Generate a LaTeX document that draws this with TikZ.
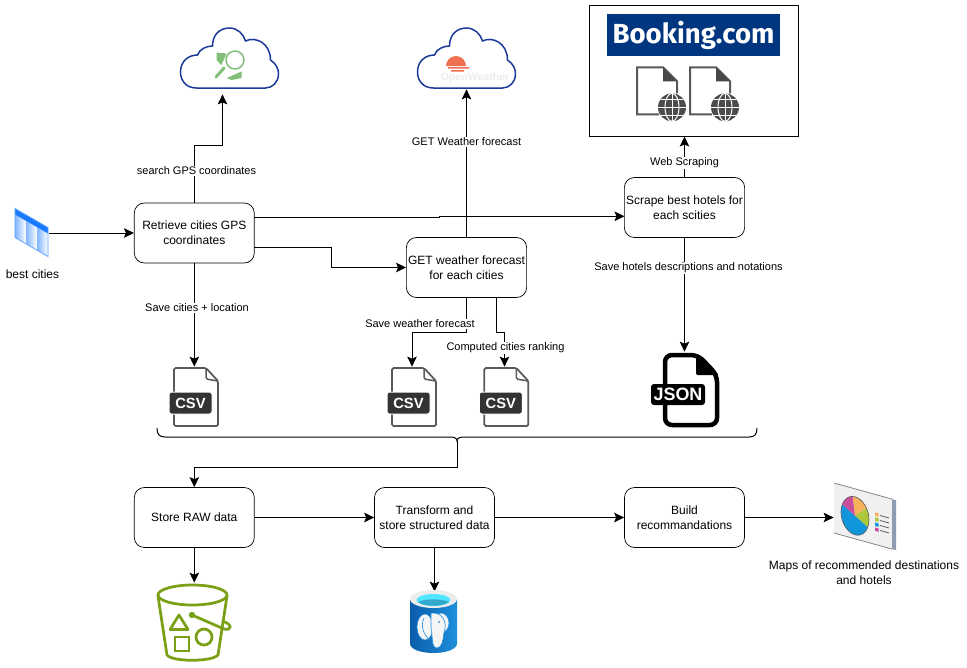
\documentclass[tikz,border=0pt]{standalone}
\usepackage{fontspec}
\setmainfont{Liberation Sans}
\newfontfamily\logofont{Fira Sans}
\usepackage{tikz}
\usetikzlibrary{arrows.meta,positioning,calc}
\definecolor{cloudcol}{HTML}{1A3A9C}
\definecolor{mapcol}{HTML}{82C07A}
\definecolor{suncol}{HTML}{EE7050}
\definecolor{bookingcol}{HTML}{003580}
\definecolor{filecol}{HTML}{595959}
\definecolor{badgecol}{HTML}{333333}
\definecolor{tablecol}{HTML}{1A7AFF}
\definecolor{bucketcol}{HTML}{7AA116}
\definecolor{pgcol}{HTML}{0A5DAB}
\definecolor{pglight}{HTML}{1E8FDC}
\definecolor{pgcyan}{HTML}{50E6FF}
\definecolor{pgdark}{HTML}{32A8CC}
\definecolor{pieorange}{HTML}{F5B25A}
\definecolor{piegreen}{HTML}{AEC83C}
\definecolor{pieblue}{HTML}{1296DB}
\definecolor{piepink}{HTML}{C94F9C}
\definecolor{panelside}{HTML}{8F9BB3}
\tikzset{
  stepbox/.style={draw, rounded corners=0.2cm, fill=white, align=center, inner sep=1pt, minimum width=2.4cm, minimum height=1.2cm, font=\fontsize{6.83}{8.54}\selectfont},
  edgelabel/.style={fill=white, inner sep=0.6pt, align=center, font=\fontsize{6.26}{8}\selectfont},
  plainlabel/.style={align=center, inner sep=0pt, font=\fontsize{6.83}{8.54}\selectfont},
  iconbox/.style 2 args={inner sep=0pt, minimum width=#1*0.02cm, minimum height=#2*0.02cm},
  flow/.style={line width=0.02cm, -{Stealth[length=0.2cm,width=0.19cm,inset=0.04cm]}},
  pics/cloudicon/.style={code={
    \draw[cloudcol, line width=0.03cm, fill=white] (16,0) .. controls (5,0) and (0,-8) .. (0,-16)
      .. controls (0,-27) and (8,-33) .. (17,-33) .. controls (19,-39) and (26,-42) .. (32,-42)
      .. controls (32,-54) and (40,-60) .. (49,-60) .. controls (57,-60) and (63,-54) .. (65,-47)
      .. controls (75,-52) and (90,-45) .. (90,-28) .. controls (96,-24) and (98,-19) .. (98,-14)
      .. controls (98,-6) and (92,0) .. (85,0) -- cycle;
  }},
  pics/csvicon/.style={code={
    \draw[filecol, line width=0.035cm, rounded corners=0.03cm] (0,58) -- (44,58) -- (44,13) -- (32,0) -- (0,0) -- cycle;
    \draw[filecol, line width=0.03cm, rounded corners=0.03cm] (32,0) -- (32,11) -- (44,13);
    \draw[white, fill=badgecol, line width=0.02cm, rounded corners=0.05cm] (-5,24) rectangle (38,46);
    \node[white, inner sep=0pt, font=\fontsize{8.4}{9}\bfseries\selectfont] at (16.5,35) {CSV};
  }},
  pics/webicon/.style={code={
    \draw[filecol, line width=0.04cm] (22,47) -- (0,47) -- (0,0) -- (26,0) -- (40,14) -- (40,26);
    \fill[filecol!80!black] (26,0) -- (40,14) -- (26,14) -- cycle;
    \fill[filecol!85!black] (35,40) circle[radius=14];
    \draw[white, line width=0.02cm] (35,26) -- (35,54) (21,40) -- (49,40) (24,32) -- (46,32) (24,48) -- (46,48);
    \draw[white, line width=0.02cm] (35,40) ellipse[x radius=7, y radius=14];
  }},
}
\begin{document}
\begin{tikzpicture}[x=0.02cm, y=-0.02cm]
\useasboundingbox (0,0) rectangle (967,667);

\node[stepbox] (retrieve) at (194.3,233) {Retrieve cities GPS\\coordinates};
\node[stepbox] (getweather) at (466.5,267.5) {GET weather forecast\\for each cities};
\node[stepbox] (scrape) at (684.5,207.5) {Scrape best hotels for\\each scities};
\node[stepbox] (store) at (194.3,517.5) {Store RAW data};
\node[stepbox] (transform) at (434.5,517.5) {Transform and\\store structured data};
\node[stepbox] (build) at (684.5,517.5) {Build\\recommandations};

\node[iconbox={34}{50}] (bestcities) at (32,233) {};
\node[iconbox={90}{68}] (cloudgps) at (222.5,60) {};
\node[iconbox={90}{68}] (cloudweather) at (466.5,55) {};
\node[draw, line width=0.02cm, iconbox={209}{131}] (booking) at (693.5,70.5) {};
\node[iconbox={44}{60}] (csvcities) at (194.3,397) {};
\node[iconbox={44}{60}] (csvweather) at (412,397) {};
\node[iconbox={44}{60}] (csvranking) at (504.5,397) {};
\node[iconbox={56}{76}] (jsonhotels) at (684.5,390) {};
\node[iconbox={76}{78}] (bucket) at (194.3,622) {};
\node[iconbox={48}{60}] (postgres) at (434.5,622) {};
\node[iconbox={62}{66}] (chart) at (865,517.5) {};

\coordinate (gpsbend) at (222.5,145);
\coordinate (retrieveup) at (254.3,217);
\coordinate (retrievedown) at (254.3,247);
\coordinate (jog) at (439,216.3);
\coordinate (scrapein) at (624.5,216.3);
\coordinate (savebend) at (412,332);
\coordinate (weatherright) at (496.5,297);
\coordinate (rankbend) at (504.5,332.5);
\coordinate (bracetip) at (457,441);
\coordinate (bracebend) at (194.3,467);

\draw[flow] (bestcities.east) -- (retrieve.west);
\draw[flow] (retrieve.north) |- (gpsbend) -- (cloudgps.south);
\draw[flow] (retrieveup) -| (jog) -- (scrapein);
\draw[flow] (retrievedown) -| (331,267.5) -- (getweather.west);
\draw[flow] (retrieve.south) -- (csvcities.north);
\draw[flow] (getweather.north) -- (cloudweather.south);
\draw[flow] (getweather.south) |- (savebend) -- (csvweather.north);
\draw[flow] (weatherright) |- (rankbend) -- (csvranking.north);
\draw[flow] (scrape.north) -- (scrape.north |- booking.south);
\draw[flow] (scrape.south) -- (jsonhotels.north);
\draw[flow] (bracetip) |- (bracebend) -- (store.north);
\draw[flow] (store.east) -- (transform.west);
\draw[flow] (store.south) -- (bucket.north);
\draw[flow] (transform.east) -- (build.west);
\draw[flow] (transform.south) -- (postgres.north);
\draw[flow] (build.east) -- (chart.west);

\draw[line width=0.02cm] (157,428) .. controls (157,434) and (159,437) .. (165,437) -- (450,437)
  .. controls (454,437) and (457,438) .. (bracetip) .. controls (457,438) and (460,437) .. (464,437)
  -- (749,437) .. controls (755,437) and (757,434) .. (757,428);

\node[edgelabel] (labelgps) at (196.5,171) {search GPS coordinates};
\node[edgelabel] (labelsavecities) at (197,308) {Save cities + location};
\node[edgelabel] (labelgetweather) at (466.5,142) {GET Weather forecast};
\node[edgelabel] (labelsaveweather) at (420,324) {Save weather forecast};
\node[edgelabel] (labelranking) at (505.5,348) {Computed cities ranking};
\node[edgelabel] (labelscraping) at (684.5,163) {Web Scraping};
\node[edgelabel] (labelhotels) at (688.5,268) {Save hotels descriptions and notations};
\node[plainlabel] (labelbest) at (32.5,274) {best cities};
\node[plainlabel] (labelmaps) at (864,572.5) {Maps of recommended destinations\\and hotels};

% clouds
\pic at (180.5,88) {cloudicon};
\pic at (417.5,88) {cloudicon};
\fill[mapcol] (216.5,52.5) -- (226.5,53.5) -- (221.5,65) -- (216.5,60) -- cycle
  (226.7,78) -- (241.5,71.5) -- (241.5,78) -- (231.5,80) -- cycle;
\draw[mapcol, line width=0.06cm, line cap=round] (224,68) -- (216,77);
\draw[mapcol, line width=0.03cm] (235,60) circle[radius=9];
\fill[suncol] (446,66) arc[start angle=180, end angle=360, x radius=10, y radius=10] -- cycle;
\fill[suncol] (448,67) rectangle (469,68.5) (451,70) rectangle (464,71.5);
\node[gray!15, inner sep=0pt, font=\fontsize{6}{7}\bfseries\selectfont] (owmtext) at (475,78) {OpenWeather};

% booking
\node[fill=bookingcol, iconbox={173}{42}] (bookinglogo) at (693.5,35) {};
\node[white, inner sep=0pt, font=\logofont\fontsize{15.7}{17}\bfseries\selectfont] (bookingtext) at (693.5,35) {Booking.com};
\pic at (637,67.3) {webicon};
\pic at (690,67.3) {webicon};

% csv and json
\pic at (174,368) {csvicon};
\pic at (392,368) {csvicon};
\pic at (484.3,368) {csvicon};
\draw[black, line width=0.09cm, rounded corners=0.14cm, line join=round] (665,355) -- (698,355) -- (717,375) -- (717,425) -- (665,425) -- cycle;
\fill[black, rounded corners=0.03cm] (696,353) -- (719,375) -- (696,375) -- cycle;
\fill[black, rounded corners=0.06cm] (651,384) rectangle (705,405);
\node[white, inner sep=0pt, font=\fontsize{10.2}{11}\bfseries\selectfont] (jsontext) at (678,394.5) {JSON};

% table
\begin{scope}[shift={(15,208.5)}, yslant=-0.576]
\foreach \colx in {0,11,22}
  \shade[left color=tablecol!55, right color=white] (\colx,6) rectangle ++(11,23);
\fill[tablecol] (0,0) rectangle (33,6);
\draw[tablecol!70, line width=0.015cm] (0,0) rectangle (33,29);
\end{scope}

% bucket
\begin{scope}[bucketcol, line width=0.055cm]
\draw (192.5,595) ellipse[x radius=34.5, y radius=10];
\draw (158,596) -- (167,655) .. controls (172,662) and (212,662) .. (218,655) -- (227,596);
\draw[line join=round] (170,629.5) -- (188,629.5) -- (179,615) -- cycle;
\draw (175,637) rectangle (189,651);
\draw (204,637) circle[radius=8];
\fill (192,615) circle[radius=3.2];
\draw (192,615) -- (224,629) .. controls (232,631) and (233,624) .. (222,621);
\end{scope}

% postgres
\shade[left color=pgcol, right color=pglight] (410,599) -- (410,644) .. controls (412,656) and (455,656) .. (457,644) -- (457,599) -- cycle;
\fill[gray!15] (433.5,599) ellipse[x radius=23.5, y radius=9];
\fill[pgcyan] (433.5,600) ellipse[x radius=17, y radius=6];
\fill[pgdark] (418,602) .. controls (425,598.5) and (442,598.5) .. (449,602) .. controls (442,607) and (425,607) .. (418,602) -- cycle;
\begin{scope}[line width=0.012cm, draw=pglight, fill=gray!8]
\filldraw (425,627) ellipse[x radius=8, y radius=13];
\filldraw (441,623) ellipse[x radius=8, y radius=10];
\filldraw (431,613) .. controls (445,612) and (447,625) .. (444,632) .. controls (443,640) and (442,648) .. (437,648) .. controls (431,648) and (433,636) .. (431,628) -- cycle;
\draw (424,618) .. controls (420,626) and (424,636) .. (430,640);
\fill[pgcol] (439,622) circle[radius=0.8];
\end{scope}

% chart
\begin{scope}[shift={(834,483)}, yslant=-0.277]
\fill[gray!12] (0,0) rectangle (58,50);
\fill[panelside] (58,0) rectangle (62,50);
\draw[gray, line width=0.015cm] (0,0) -- (58,0) (0,50) -- (58,50);
\foreach \pa/\pb/\pc in {260/325/pieorange, 325/385/piegreen, 25/205/pieblue, 205/260/piepink}
  \fill[\pc] (21,27) -- ($(21,27)+(\pa:14 and 19)$) arc[start angle=\pa, end angle=\pb, x radius=14, y radius=19] -- cycle;
\draw[gray!70!black, line width=0.012cm] (21,27) ellipse[x radius=14, y radius=19];
\foreach \ly/\lc in {18/pieorange, 23/piegreen, 28/pieblue, 33/piepink} {
  \fill[\lc] (41,\ly) rectangle ++(3.5,3.5);
  \draw[gray!70!black, line width=0.015cm] (46,\ly+1.7) -- ++(9,0);
}
\end{scope}
\end{tikzpicture}
\end{document}
